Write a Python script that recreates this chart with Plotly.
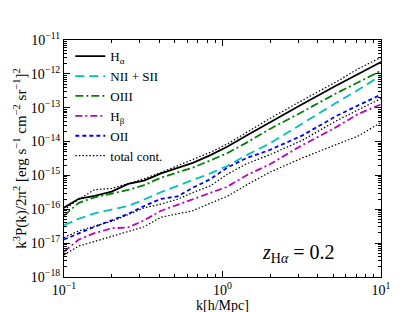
import plotly.graph_objects as go

k = [0.1, 0.124, 0.156, 0.2, 0.254, 0.32, 0.41, 0.52, 0.65, 0.84, 1.07, 1.42, 1.98, 3.18, 5.16, 7.2, 10.0]

p_halpha = [1.12e-16, 2.04e-16, 2.48e-16, 3.33e-16, 5.62e-16, 7.06e-16, 1.15e-15, 1.70e-15, 2.36e-15,
            3.98e-15, 7.01e-15, 1.51e-14, 3.66e-14, 1.26e-13, 4.37e-13, 1.02e-12, 2.23e-12]
p_nii_sii = [3.40e-17, 5.26e-17, 7.57e-17, 9.96e-17, 1.25e-16, 1.94e-16, 3.23e-16, 4.93e-16, 7.15e-16,
             1.15e-15, 1.90e-15, 3.98e-15, 8.71e-15, 3.43e-14, 1.35e-13, 3.37e-13, 8.95e-13]
p_oiii = [6.52e-17, 1.55e-16, 2.25e-16, 2.98e-16, 3.72e-16, 5.16e-16, 8.59e-16, 1.23e-15, 1.70e-15,
          2.78e-15, 4.53e-15, 9.29e-15, 2.32e-14, 7.50e-14, 2.59e-13, 5.66e-13, 1.24e-12]
p_hbeta = [5.57e-18, 1.28e-17, 1.98e-17, 2.74e-17, 2.92e-17, 4.71e-17, 9.04e-17, 1.34e-16, 1.94e-16,
           3.12e-16, 4.61e-16, 1.01e-15, 2.11e-15, 7.78e-15, 2.59e-14, 6.58e-14, 1.26e-13]
p_oii = [1.28e-17, 1.98e-17, 3.04e-17, 4.71e-17, 7.28e-17, 1.25e-16, 2.04e-16, 2.40e-16, 4.33e-16,
         7.78e-16, 1.70e-15, 3.27e-15, 5.62e-15, 1.50e-14, 5.52e-14, 1.18e-13, 2.43e-13]
p_cont_high = [9.64e-17, 1.98e-16, 3.79e-16, 4.13e-16, 5.73e-16, 7.94e-16, 1.23e-15, 1.94e-15, 2.87e-15,
               4.84e-15, 8.42e-15, 1.91e-14, 4.74e-14, 1.64e-13, 5.66e-13, 1.41e-12, 3.09e-12]
p_cont_mid = [1.46e-17, 2.30e-17, 3.18e-17, 4.41e-17, 6.96e-17, 1.10e-16, 1.43e-16, 1.98e-16, 3.12e-16,
              4.93e-16, 1.08e-15, 2.21e-15, 4.06e-15, 1.08e-14, 3.98e-14, 8.53e-14, 1.87e-13]
p_cont_low = [4.50e-18, 8.24e-18, 1.12e-17, 1.58e-17, 2.15e-17, 3.04e-17, 5.84e-17, 7.43e-17, 9.04e-17,
              1.52e-16, 2.40e-16, 5.26e-16, 1.23e-15, 3.27e-15, 7.78e-15, 1.47e-14, 3.66e-14]

y_tickvals = [1e-18, 1e-17, 1e-16, 1e-15, 1e-14, 1e-13, 1e-12, 1e-11]
y_ticktext = ["10<sup>−18</sup>", "10<sup>−17</sup>", "10<sup>−16</sup>", "10<sup>−15</sup>",
              "10<sup>−14</sup>", "10<sup>−13</sup>", "10<sup>−12</sup>", "10<sup>−11</sup>"]
x_tickvals = [0.1, 1, 10]
x_ticktext = ["10<sup>−1</sup>", "10<sup>0</sup>", "10<sup>1</sup>"]

y_minor = [m * d for d in y_tickvals[:-1] for m in range(2, 10)]
x_minor = [m * d for d in x_tickvals[:-1] for m in range(2, 10)]

FONT = "Liberation Serif"

fig = go.Figure()
series = [
    ("H<sub>α</sub>", p_halpha, dict(color="black", width=1.8, dash="solid"), True),
    ("NII + SII", p_nii_sii, dict(color="#00bfbf", width=1.8, dash="9px,5px"), True),
    ("OIII", p_oiii, dict(color="#008000", width=1.8, dash="8px,3px,2px,3px"), True),
    ("H<sub>β</sub>", p_hbeta, dict(color="#bf00bf", width=1.8, dash="7px,3px,2px,3px"), True),
    ("OII", p_oii, dict(color="#0000ff", width=1.8, dash="4px,3px"), True),
    ("total cont.", p_cont_high, dict(color="black", width=1.2, dash="1.5px,2px"), True),
    ("total cont.", p_cont_mid, dict(color="black", width=1.2, dash="1.5px,2px"), False),
    ("total cont.", p_cont_low, dict(color="black", width=1.2, dash="1.5px,2px"), False),
]
for name, vals, line, show in series:
    fig.add_trace(go.Scatter(x=k, y=vals, mode="lines", name=name, line=line, showlegend=show))

# invisible trace to anchor the minor-tick overlay axes
fig.add_trace(go.Scatter(x=[k[0]], y=[p_halpha[0]], xaxis="x2", yaxis="y2", mode="lines",
                         showlegend=False, hoverinfo="skip", line=dict(width=0)))

axis_common = dict(
    type="log", showline=True, linecolor="black", linewidth=1, mirror="allticks",
    ticks="inside", ticklen=6, tickcolor="black", showgrid=False, zeroline=False,
    tickfont=dict(family=FONT, size=14, color="black"),
)

fig.update_layout(
    xaxis=dict(
        **axis_common, range=[-1, 1], tickvals=x_tickvals, ticktext=x_ticktext,
        title=dict(text="k[h/Mpc]", font=dict(family=FONT, size=14, color="black"), standoff=0),
    ),
    yaxis=dict(
        **axis_common, range=[-18, -11], tickvals=y_tickvals, ticktext=y_ticktext,
        title=dict(text="k<sup>3</sup>P(k)/2π<sup>2</sup> [erg s<sup>−1</sup> cm<sup>−2</sup> sr<sup>−1</sup>]<sup>2</sup>",
                   font=dict(family=FONT, size=15, color="black"), standoff=0),
    ),
    xaxis2=dict(type="log", overlaying="x", range=[-1, 1], tickvals=x_minor, ticks="inside", ticklen=3,
                tickcolor="black", showticklabels=False, showgrid=False, zeroline=False,
                showline=False, mirror="allticks", side="bottom", anchor="y2"),
    yaxis2=dict(type="log", overlaying="y", range=[-18, -11], tickvals=y_minor, ticks="inside", ticklen=3,
                tickcolor="black", showticklabels=False, showgrid=False, zeroline=False,
                showline=False, mirror="allticks", side="left", anchor="x2"),
)

fig.add_annotation(
    x=0.86, y=0.04, xref="paper", yref="paper", showarrow=False, yanchor="bottom", xanchor="right",
    text="<i>z</i><sub>H<i>α</i></sub> = 0.2",
    font=dict(family=FONT, size=20, color="black"),
)

fig.update_layout(
    width=415, height=312,
    margin=dict(l=52, r=42, t=32, b=33),
    paper_bgcolor="white", plot_bgcolor="white",
    legend=dict(x=0.02, y=0.995, xanchor="left", yanchor="top", bgcolor="rgba(0,0,0,0)",
                font=dict(family=FONT, size=13, color="black"), tracegroupgap=0,
                itemwidth=30),
    font=dict(family=FONT, color="black"),
)

fig.write_html("out.html")
